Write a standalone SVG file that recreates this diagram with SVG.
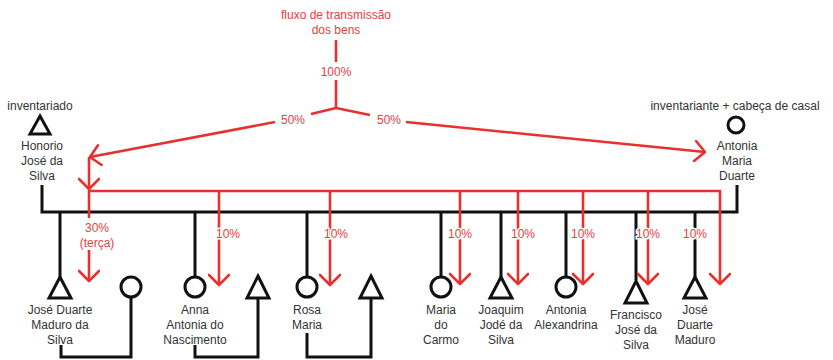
<svg xmlns="http://www.w3.org/2000/svg" width="833" height="360" viewBox="0 0 833 360">
<defs>
<marker id="arr" markerUnits="userSpaceOnUse" markerWidth="22" markerHeight="22" viewBox="0 0 22 22" refX="19" refY="11" orient="auto">
<path d="M9,1 L19,11 L9,21" fill="none" stroke="#e8302e" stroke-width="2.6" stroke-linecap="round" stroke-linejoin="round"/>
</marker>
</defs>
<style>
text{font-family:"Liberation Sans",Arial,sans-serif;font-size:12px;text-anchor:middle}
.n{fill:#333}
.r{fill:#e8403e}
.h{stroke:#fff;stroke-width:3px;paint-order:stroke}
.bl{stroke:#111;stroke-width:3;fill:none;stroke-linejoin:miter}
.rl{stroke:#e8302e;stroke-width:2.6;fill:none}
.sym{stroke:#111;stroke-width:3;fill:#fff}
</style>
<rect width="833" height="360" fill="#fff"/>

<g id="connectors">
  <!-- black kinship lines -->
  <path class="bl" d="M42,185 V212 H737 V185"/>
  <path class="bl" d="M60,212 V277"/>
  <path class="bl" d="M195,212 V277"/>
  <path class="bl" d="M307,212 V277"/>
  <path class="bl" d="M441,212 V277"/>
  <path class="bl" d="M501,212 V277"/>
  <path class="bl" d="M566,212 V277"/>
  <path class="bl" d="M636,212 V280"/>
  <path class="bl" d="M695,212 V277"/>
  <path class="bl" d="M61,345 V357 H131 V297"/>
  <path class="bl" d="M195,345 V357 H258 V298"/>
  <path class="bl" d="M307,333 V357 H371 V298"/>
  <!-- red flow -->
  <path class="rl" d="M336,40 V62"/>
  <path class="rl" d="M336,80 V108"/>
  <path class="rl" d="M336,108 L311,114"/>
  <path class="rl" d="M275,122 L90,157" marker-end="url(#arr)"/>
  <path class="rl" d="M336,108 L370,115"/>
  <path class="rl" d="M406,122 L705,152" marker-end="url(#arr)"/>
  <path class="rl" d="M89,157 V189" marker-end="url(#arr)"/>
  <path class="rl" d="M89,189 V218"/>
  <path class="rl" d="M89,250 V281" marker-end="url(#arr)"/>
  <path class="rl" d="M89,191 H720 V284" marker-end="url(#arr)"/>
  <path class="rl" d="M219,191 V285" marker-end="url(#arr)"/>
  <path class="rl" d="M330,191 V285" marker-end="url(#arr)"/>
  <path class="rl" d="M460,191 V284" marker-end="url(#arr)"/>
  <path class="rl" d="M518,191 V284" marker-end="url(#arr)"/>
  <path class="rl" d="M583,191 V284" marker-end="url(#arr)"/>
  <path class="rl" d="M648,191 V284" marker-end="url(#arr)"/>
  <!-- flow labels -->
  <text class="r" x="336" y="19">fluxo de transmissão</text>
  <text class="r" x="336" y="34">dos bens</text>
  <text class="r" x="336" y="76">100%</text>
  <text class="r" x="293" y="124">50%</text>
  <text class="r" x="389" y="124">50%</text>
  <text class="r" x="97" y="232">30%</text>
  <text class="r" x="97" y="247">(terça)</text>
  <text class="r h" x="228" y="238">10%</text>
  <text class="r h" x="336" y="238">10%</text>
  <text class="r h" x="460" y="238">10%</text>
  <text class="r h" x="523" y="238">10%</text>
  <text class="r h" x="583" y="238">10%</text>
  <text class="r h" x="648" y="238">10%</text>
  <text class="r h" x="695" y="238">10%</text>
</g>

<g id="honorio">
  <text class="n" x="40" y="110">inventariado</text>
  <path class="sym" d="M40,116 L50,134 L30,134 Z"/>
  <text class="n" x="42" y="150">Honorio</text>
  <text class="n" x="42" y="165">José da</text>
  <text class="n" x="42" y="180">Silva</text>
</g>
<g id="antonia-maria">
  <text class="n" x="735" y="110">inventariante + cabeça de casal</text>
  <circle class="sym" cx="736" cy="125" r="8"/>
  <text class="n" x="737" y="150">Antonia</text>
  <text class="n" x="737" y="165">Maria</text>
  <text class="n" x="737" y="180">Duarte</text>
</g>
<g id="jose-duarte-maduro-da-silva">
  <path class="sym" d="M60,277 L71,298 L49,298 Z"/>
  <text class="n" x="60" y="314">José Duarte</text>
  <text class="n" x="60" y="329">Maduro da</text>
  <text class="n" x="60" y="344">Silva</text>
</g>
<g id="spouse-1">
  <circle class="sym" cx="131" cy="287" r="10"/>
</g>
<g id="anna-antonia">
  <circle class="sym" cx="195" cy="287" r="10"/>
  <text class="n" x="195" y="314">Anna</text>
  <text class="n" x="195" y="329">Antonia do</text>
  <text class="n" x="195" y="344">Nascimento</text>
</g>
<g id="spouse-2">
  <path class="sym" d="M258,276 L269,298 L247,298 Z"/>
</g>
<g id="rosa-maria">
  <circle class="sym" cx="307" cy="287" r="10"/>
  <text class="n" x="307" y="314">Rosa</text>
  <text class="n" x="307" y="329">Maria</text>
</g>
<g id="spouse-3">
  <path class="sym" d="M371,276 L382,298 L360,298 Z"/>
</g>
<g id="maria-do-carmo">
  <circle class="sym" cx="441" cy="287" r="10"/>
  <text class="n" x="441" y="314">Maria</text>
  <text class="n" x="441" y="329">do</text>
  <text class="n" x="441" y="344">Carmo</text>
</g>
<g id="joaquim">
  <path class="sym" d="M501,277 L512,298 L490,298 Z"/>
  <text class="n" x="501" y="314">Joaquim</text>
  <text class="n" x="501" y="329">Jodé da</text>
  <text class="n" x="501" y="344">Silva</text>
</g>
<g id="antonia-alexandrina">
  <circle class="sym" cx="566" cy="287" r="10"/>
  <text class="n" x="566" y="314">Antonia</text>
  <text class="n" x="566" y="329">Alexandrina</text>
</g>
<g id="francisco">
  <path class="sym" d="M636,281 L647,303 L625,303 Z"/>
  <text class="n" x="636" y="319">Francisco</text>
  <text class="n" x="636" y="334">José da</text>
  <text class="n" x="636" y="349">Silva</text>
</g>
<g id="jose-duarte-maduro">
  <path class="sym" d="M695,277 L706,298 L684,298 Z"/>
  <text class="n" x="695" y="314">José</text>
  <text class="n" x="695" y="329">Duarte</text>
  <text class="n" x="695" y="344">Maduro</text>
</g>
</svg>
